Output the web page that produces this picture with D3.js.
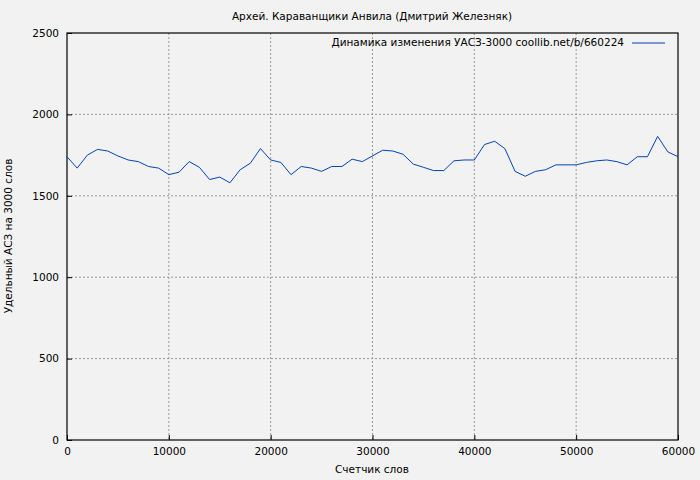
<!DOCTYPE html>
<html><head><meta charset="utf-8">
<script src="https://cdn.jsdelivr.net/npm/d3@7"></script>
<style>body{margin:0;background:#f2f2f2}text{font-family:"DejaVu Sans",sans-serif}</style>
</head><body>
<svg id="chart" width="700" height="480"></svg>
<script>
const xValues = d3.range(0, 60001, 1000)
const yValues = [1740,1670,1750,1785,1775,1745,1720,1710,1680,1670,1630,1645,1710,1675,1600,1615,1580,1660,1700,1790,
  1720,1705,1630,1680,1670,1650,1680,1680,1725,1710,1745,1780,1775,1755,1695,1675,1655,1655,1715,1720,
  1720,1815,1835,1790,1650,1620,1650,1660,1690,1690,1690,1705,1715,1720,1710,1690,1740,1740,1865,1770,1740]
const xTicks = [0,10000,20000,30000,40000,50000,60000]
const yTicks = [0,500,1000,1500,2000,2500]

const svg = d3.select('#chart')
const m = {l:67, r:678, t:33, b:440}
const x = d3.scaleLinear().domain([0,60000]).range([m.l,m.r])
const y = d3.scaleLinear().domain([0,2500]).range([m.b,m.t])

svg.append('rect').attr('width',700).attr('height',480).attr('fill','#f2f2f2')

// grid
svg.selectAll('line.gx').data(xTicks.slice(1,-1)).enter().append('line')
  .attr('x1',d=>x(d)).attr('x2',d=>x(d)).attr('y1',m.t).attr('y2',m.b)
  .attr('stroke','#999').attr('stroke-dasharray','2,2')
svg.selectAll('line.gy').data(yTicks.slice(1,-1)).enter().append('line')
  .attr('y1',d=>y(d)).attr('y2',d=>y(d)).attr('x1',m.l).attr('x2',m.r)
  .attr('stroke','#999').attr('stroke-dasharray','2,2')

svg.append('g').attr('transform',`translate(0,${m.b})`)
  .call(d3.axisBottom(x).tickValues(xTicks).tickFormat(d3.format('d')).tickSize(-5).tickPadding(8))
svg.append('g').attr('transform',`translate(${m.l},0)`)
  .call(d3.axisLeft(y).tickValues(yTicks).tickFormat(d3.format('d')).tickSize(-5).tickPadding(8))
svg.selectAll('.tick text').style('font-size','10.5px').attr('fill','#000')
svg.selectAll('path.domain').remove()
svg.append('rect').attr('x',m.l).attr('y',m.t).attr('width',m.r-m.l).attr('height',m.b-m.t)
  .attr('fill','none').attr('stroke','#000').attr('stroke-width',1.2)

svg.append('path').datum(xValues.map((d,i)=>[d,yValues[i]]))
  .attr('d', d3.line().x(d=>x(d[0])).y(d=>y(d[1])))
  .attr('fill','none').attr('stroke','#0045b5').attr('stroke-width',1)

svg.append('text').attr('x',372).attr('y',20).attr('text-anchor','middle').style('font-size','10.5px')
  .text('Архей. Караванщики Анвила (Дмитрий Железняк)')
svg.append('text').attr('x',372).attr('y',473).attr('text-anchor','middle').style('font-size','10.5px')
  .text('Счетчик слов')
svg.append('text').attr('transform','translate(12,236) rotate(-90)').attr('text-anchor','middle').style('font-size','10.5px')
  .text('Удельный АСЗ на 3000 слов')

// legend
svg.append('text').attr('x',624).attr('y',46).attr('text-anchor','end').style('font-size','10.5px')
  .text('Динамика изменения УАСЗ-3000 coollib.net/b/660224')
svg.append('line').attr('x1',632).attr('x2',665).attr('y1',43).attr('y2',43)
  .attr('stroke','#0045b5').attr('stroke-width',1)
</script>
</body></html>
